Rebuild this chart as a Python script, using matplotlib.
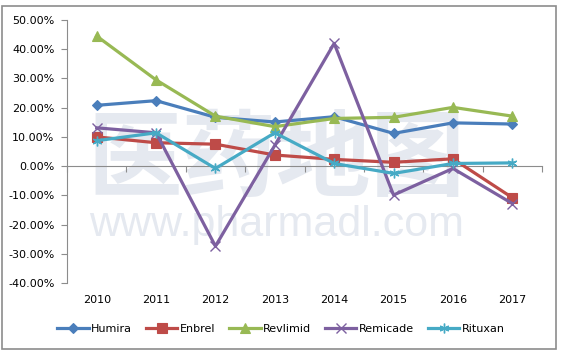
import matplotlib
matplotlib.use('Agg')
import matplotlib.pyplot as plt
import matplotlib.transforms as mtransforms
from matplotlib.patches import Rectangle

plt.rcParams['font.family'] = ['DejaVu Sans']

years = ['2010', '2011', '2012', '2013', '2014', '2015', '2016', '2017']
humira = [20.8, 22.4, 16.7, 15.1, 16.9, 11.2, 14.8, 14.4]
enbrel = [10.0, 8.0, 7.5, 3.8, 2.3, 1.3, 2.5, -10.8]
revlimid = [44.5, 29.5, 17.1, 13.5, 16.3, 16.7, 20.1, 17.1]
remicade = [13.1, 11.4, -27.4, 7.1, 42.0, -9.9, -0.8, -12.8]
rituxan = [8.7, 11.4, -0.8, 11.4, 0.9, -2.5, 0.9, 1.1]

series = [
    ('Humira', humira, '#4A7EBB', 'D'),
    ('Enbrel', enbrel, '#BE4B48', 's'),
    ('Revlimid', revlimid, '#98B954', '^'),
    ('Remicade', remicade, '#7D60A0', 'x'),
    ('Rituxan', rituxan, '#46AAC5', (6, 2, 0)),
]

W, H = 562, 352
fig = plt.figure(figsize=(W / 100, H / 100), dpi=100)
fig.patches.append(Rectangle((2 / W, 3 / H), 554 / W, 343 / H, transform=fig.transFigure,
                             fill=False, edgecolor='#8c8c8c', linewidth=1.2))

ax = fig.add_axes([67 / W, 1 - 283 / H, 475 / W, 263 / H])
ax.patch.set_alpha(0)

# watermark
ax.text(0.441, 0.465, '医药地图', transform=ax.transAxes, ha='center', va='center',
        fontsize=68, fontweight='bold', color='#e5e9f0', family=['Noto Sans CJK SC'], zorder=0)
ax.text(0.441, 0.222, 'www.pharmadl.com', transform=ax.transAxes, ha='center', va='center',
        fontsize=31, color='#e5e9f0', family=['Liberation Sans'], zorder=0)

x = list(range(len(years)))
for name, vals, color, marker in series:
    ms = 7 if marker in ('x', (6, 2, 0)) else 6.5
    if marker == 'D':
        ms = 5.5
    ax.plot(x, vals, color=color, linewidth=2.3, marker=marker, markersize=ms,
            markeredgewidth=1.0 if marker in ('x', (6, 2, 0)) else 0.8,
            label=name, zorder=3)

ax.set_xlim(-0.5, len(years) - 0.5)
ax.set_ylim(-40, 50)
ax.set_yticks(range(-40, 51, 10))
ax.set_yticklabels([f'{v:.2f}%' for v in range(-40, 51, 10)])

for s in ['top', 'right']:
    ax.spines[s].set_visible(False)
ax.spines['left'].set_color('#8c8c8c')
ax.spines['bottom'].set_color('#8c8c8c')
ax.spines['bottom'].set_position(('data', 0))

ax.set_xticks([i + 0.5 for i in range(-1, len(years))])
ax.set_xticklabels([])
ax.tick_params(axis='x', direction='out', length=4, color='#8c8c8c')
ax.tick_params(axis='y', direction='out', length=4, color='#8c8c8c', labelsize=8, pad=5)

trans = mtransforms.blended_transform_factory(ax.transData, ax.transAxes)
for i, yr in enumerate(years):
    ax.text(i, -0.065, yr, transform=trans, ha='center', va='center', fontsize=8)

leg = fig.legend(loc='center', bbox_to_anchor=(281 / W, 1 - 329 / H), ncol=5,
                 frameon=False, fontsize=8, handlelength=2.8, handletextpad=0.2,
                 columnspacing=1.3, borderaxespad=0)

fig.savefig('out.png', dpi=100)
